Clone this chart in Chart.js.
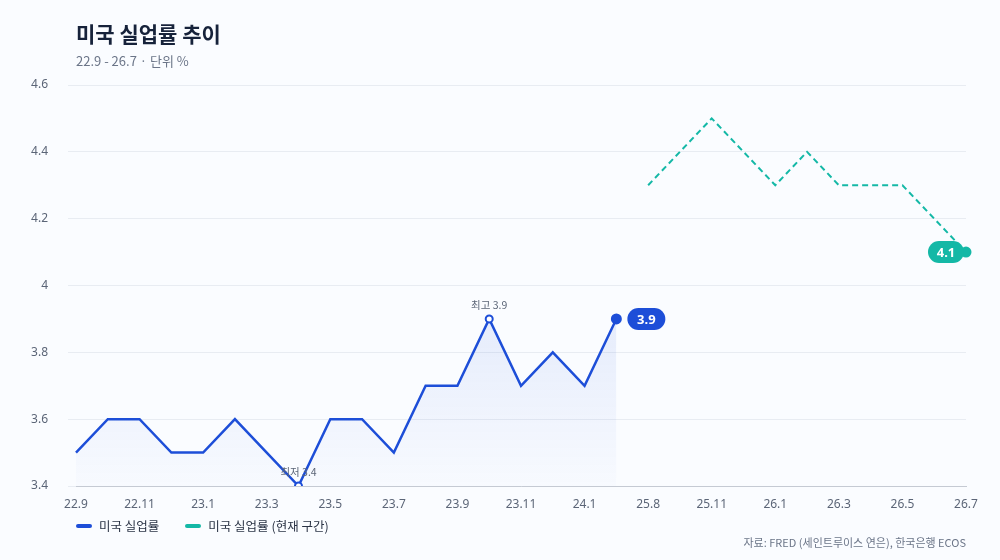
<!DOCTYPE html>
<html><head><meta charset="utf-8">
<script src="https://cdn.jsdelivr.net/npm/chart.js@4"></script>
<style>
body{margin:0;background:#fafcff;font-family:"Noto Sans CJK KR","Noto Sans",sans-serif;}
#wrap{position:relative;width:1000px;height:560px;}
canvas{position:absolute;left:0;top:0;}
.t{position:absolute;left:76px;top:18px;font-size:21px;font-weight:700;color:#16223a;}
.s{position:absolute;left:76px;top:51px;font-size:13px;color:#6b7588;}
.lg{position:absolute;left:76px;top:516px;font-size:12.5px;color:#2a3345;display:flex;gap:26px;}
.lg span{display:flex;align-items:center;gap:7px;}
.lg i{display:inline-block;width:16px;height:4px;border-radius:2px;}
.src{position:absolute;right:34px;top:534px;font-size:11px;color:#6b7588;}
</style></head><body>
<div id="wrap">
<canvas id="c" width="1000" height="560"></canvas>
<div class="t">미국 실업률 추이</div>
<div class="s">22.9 - 26.7 · 단위 %</div>
<div class="lg"><span><i style="background:#1d4ed8"></i>미국 실업률</span><span><i style="background:#14b8a6"></i>미국 실업률 (현재 구간)</span></div>
<div class="src">자료: FRED (세인트루이스 연은), 한국은행 ECOS</div>
</div>
<script>
const labels=["22.9","22.10","22.11","22.12","23.1","23.2","23.3","23.4","23.5","23.6","23.7","23.8","23.9","23.10","23.11","23.12","24.1","24.2","25.8","25.9","25.11","25.12","26.1","26.2","26.3","26.4","26.5","26.6","26.7"];
const pastValues=[3.5,3.6,3.6,3.5,3.5,3.6,3.5,3.4,3.6,3.6,3.5,3.7,3.7,3.9,3.7,3.8,3.7,3.9];
const currentValues=[4.3,4.4,4.5,4.4,4.3,4.4,4.3,4.3,4.3,4.2,4.1];
const yTicks=[3.4,3.6,3.8,4,4.2,4.4,4.6];
const past=labels.map((l,i)=>i<pastValues.length?pastValues[i]:null);
const cur=labels.map((l,i)=>{const k=i-pastValues.length;return k>=0?currentValues[k]:null;});
const minI=7,maxI=13,lastP=pastValues.length-1,lastC=labels.length-1;
function pill(ctx,x,y,w,h,col,txt){ctx.fillStyle=col;ctx.beginPath();ctx.roundRect(x,y-h/2,w,h,h/2);ctx.fill();
ctx.fillStyle="#fff";ctx.font="bold 13px 'Noto Sans'";ctx.textAlign="center";ctx.textBaseline="middle";ctx.fillText(txt,x+w/2,y+1);}
const ann={id:'ann',afterDatasetsDraw(ch){const ctx=ch.ctx,x=ch.scales.x,y=ch.scales.y;ctx.save();
ctx.font="10.5px 'Noto Sans CJK KR'";ctx.fillStyle="#5b6577";ctx.textAlign="center";ctx.textBaseline="bottom";
ctx.fillText("최고 3.9",x.getPixelForValue(maxI),y.getPixelForValue(3.9)-9);
ctx.fillText("최저 3.4",x.getPixelForValue(minI),y.getPixelForValue(3.4)-9);
pill(ctx,x.getPixelForValue(lastP)+11,y.getPixelForValue(3.9),38,22,"#1d4ed8","3.9");
pill(ctx,x.getPixelForValue(lastC)-38,y.getPixelForValue(4.1),36,22,"#14b8a6","4.1");
ctx.restore();}};
new Chart(document.getElementById('c'),{type:'line',data:{labels,datasets:[
{data:past,borderColor:'#1d4ed8',borderWidth:2.5,tension:0,fill:'start',
 backgroundColor:(c)=>{const a=c.chart.chartArea;if(!a)return 'rgba(29,78,216,0.1)';const g=c.chart.ctx.createLinearGradient(0,a.top,0,a.bottom);g.addColorStop(0,'rgba(29,78,216,0.2)');g.addColorStop(1,'rgba(29,78,216,0.01)');return g;},
 pointRadius:(c)=>c.dataIndex===lastP?4.5:(c.dataIndex===minI||c.dataIndex===maxI?3.5:0),
 pointBackgroundColor:(c)=>c.dataIndex===lastP?'#1d4ed8':'#fff',pointBorderColor:'#1d4ed8',pointBorderWidth:2},
{data:cur,borderColor:'#14b8a6',borderWidth:2,borderDash:[6,4],tension:0,fill:false,
 pointRadius:(c)=>c.dataIndex===lastC?4.5:0,pointBackgroundColor:'#14b8a6',pointBorderColor:'#14b8a6'}]},
options:{responsive:false,animation:false,
layout:{padding:{left:30,right:34,top:85,bottom:46}},
plugins:{legend:{display:false},tooltip:{enabled:false}},
scales:{x:{grid:{display:false},border:{color:'#c5cad3'},afterFit:s=>{s.height=28;},
 ticks:{color:'#5b6577',font:{size:12,family:'Noto Sans'},maxRotation:0,autoSkip:false,callback:(v,i)=>i%2===0?labels[i]:''}},
y:{min:3.4,max:4.6,afterFit:s=>{s.width=46;},border:{display:false},grid:{color:'#e8ecf2'},
 afterBuildTicks:s=>{s.ticks=yTicks.map(v=>({value:v}));},
 ticks:{color:'#5b6577',font:{size:12,family:'Noto Sans'},padding:20,callback:v=>String(Math.round(v*10)/10)}}}},
plugins:[ann]});
</script></body></html>
